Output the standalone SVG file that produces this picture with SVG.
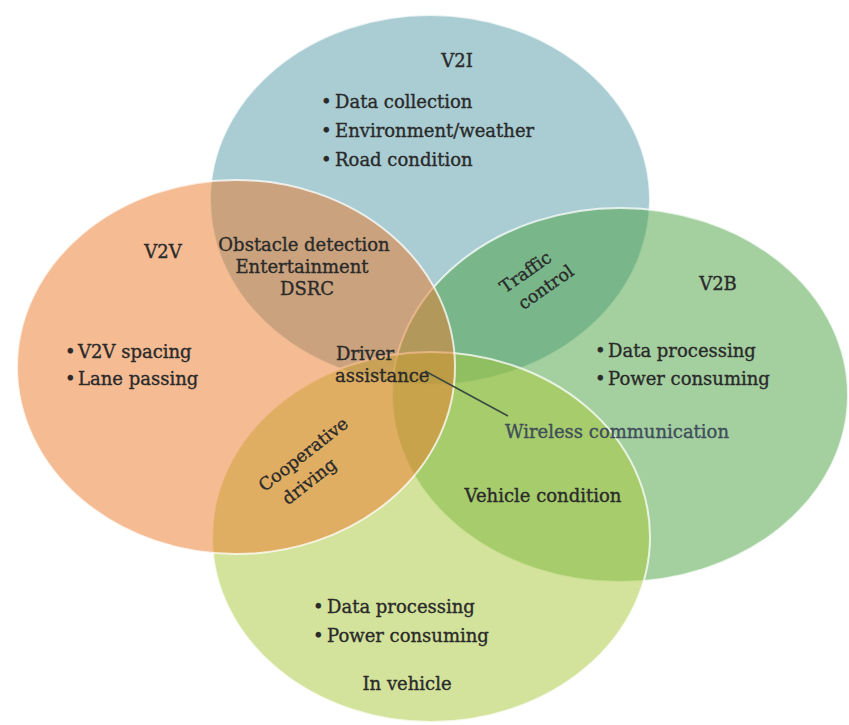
<svg xmlns="http://www.w3.org/2000/svg" width="849" height="725" viewBox="0 0 849 725">
<style>
.e{fill-opacity:0.5;stroke:#ffffff;stroke-opacity:0.75;stroke-width:2}
text{font-family:"DejaVu Serif","Liberation Serif",serif;font-size:18px;fill:#2a2a2a;stroke:#2a2a2a;stroke-width:0.35}
.c{text-anchor:middle}
.r{font-size:17.5px}
.w{fill:#3f4e5a;stroke:#3f4e5a}
</style>
<rect width="849" height="725" fill="#ffffff"/>
<g id="v2i">
<ellipse class="e" cx="430" cy="200" rx="220" ry="185" fill="#539ba7"/>
</g>
<g id="v2b">
<ellipse class="e" cx="620" cy="395" rx="228" ry="187" fill="#49a141"/>
</g>
<g id="invehicle">
<ellipse class="e" cx="431" cy="537" rx="219" ry="185" fill="#a7c737"/>
</g>
<g id="v2v">
<ellipse class="e" cx="236" cy="367" rx="219" ry="187" fill="#eb7929"/>
</g>
<g id="connectors">
<line x1="425" y1="371" x2="508" y2="416" stroke="#3a4a40" stroke-width="1.5"/>
</g>
<g id="labels-v2i">
<text class="c" x="457" y="67">V2I</text>
<text x="321" y="108"><tspan>•</tspan><tspan x="335">Data collection</tspan></text>
<text x="321" y="137"><tspan>•</tspan><tspan x="335">Environment/weather</tspan></text>
<text x="321" y="166"><tspan>•</tspan><tspan x="335">Road condition</tspan></text>
</g>
<g id="labels-v2v">
<text class="c" x="163" y="258">V2V</text>
<text x="65" y="358"><tspan>•</tspan><tspan x="78">V2V spacing</tspan></text>
<text x="65" y="385"><tspan>•</tspan><tspan x="78">Lane passing</tspan></text>
</g>
<g id="labels-v2v-v2i">
<text class="c" x="304" y="251">Obstacle detection</text>
<text class="c" x="302" y="273">Entertainment</text>
<text class="c" x="307" y="295">DSRC</text>
</g>
<g id="labels-driver">
<text x="336" y="360">Driver</text>
<text x="335" y="382">assistance</text>
</g>
<g id="labels-traffic" transform="translate(529,277) rotate(-35)">
<text class="c r" x="0" y="0">Traffic</text>
<text class="c r" x="8" y="24">control</text>
</g>
<g id="labels-coop" transform="translate(307,459) rotate(-38)">
<text class="c r" x="0" y="0">Cooperative</text>
<text class="c r" x="-12" y="25">driving</text>
</g>
<g id="labels-v2b">
<text class="c" x="718" y="290">V2B</text>
<text x="595" y="357"><tspan>•</tspan><tspan x="608">Data processing</tspan></text>
<text x="595" y="385"><tspan>•</tspan><tspan x="608">Power consuming</tspan></text>
</g>
<g id="labels-wireless">
<text class="w" x="505" y="438">Wireless communication</text>
</g>
<g id="labels-vehicle-condition">
<text class="c" x="543" y="502">Vehicle condition</text>
</g>
<g id="labels-invehicle">
<text x="313" y="613"><tspan>•</tspan><tspan x="327">Data processing</tspan></text>
<text x="313" y="642"><tspan>•</tspan><tspan x="327">Power consuming</tspan></text>
<text class="c" x="407" y="690">In vehicle</text>
</g>
</svg>
